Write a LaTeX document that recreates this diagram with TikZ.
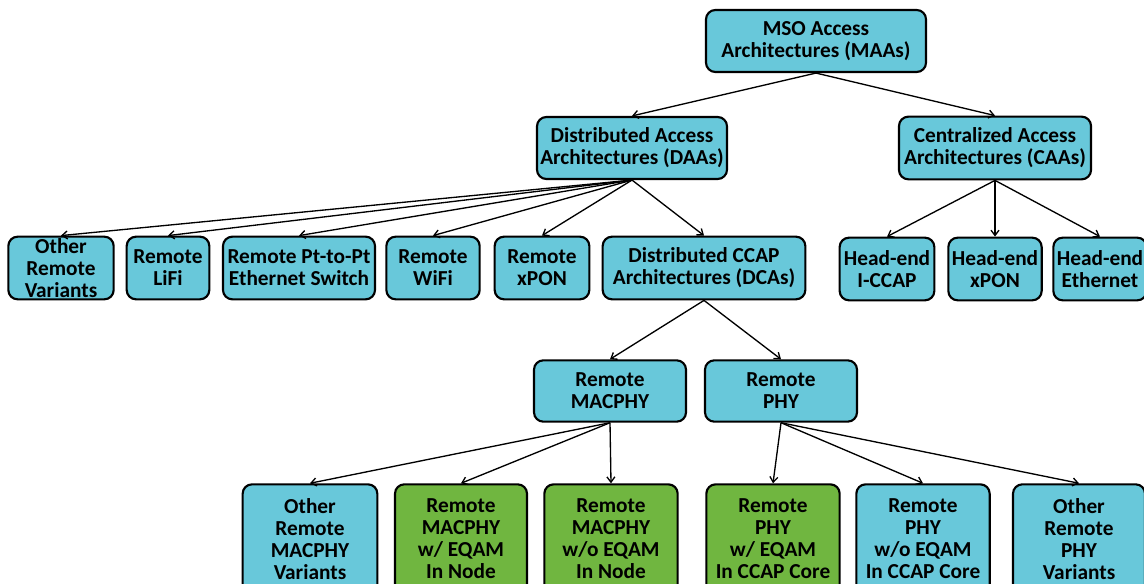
\documentclass[tikz,border=0pt]{standalone}
\usepackage{fontspec}
\setmainfont{Carlito}
\usetikzlibrary{arrows, arrows.meta}
\usetikzlibrary{calc}
\definecolor{boxblue}{RGB}{104,200,218}
\definecolor{boxgreen}{RGB}{112,182,64}

\begin{document}
\begin{tikzpicture}[x=0.75pt, y=-0.75pt,
    box/.style={draw, line width=1.6pt, rounded corners=7pt, fill=boxblue,
      align=center, font=\fontsize{16}{16.5}\selectfont\bfseries, inner sep=1pt},
    gbox/.style={box, fill=boxgreen},
    arr/.style={-{Straight Barb[length=4pt, width=6pt]}, line width=1pt}]
      \useasboundingbox (0, 0) rectangle (1144, 584);
      \clip (0, 0) rectangle (1144, 584);

      % top levels
      \node[box, minimum width=165pt, minimum height=46.5pt] (maa) at (816, 41) {MSO Access\\Architectures (MAAs)};
      \node[box, minimum width=142.5pt, minimum height=46.5pt] (daa) at (632, 148) {Distributed Access\\Architectures (DAAs)};
      \node[box, minimum width=144pt, minimum height=47pt] (caa) at (995, 148) {Centralized Access\\Architectures (CAAs)};

      % DAA children
      \node[box, minimum width=79pt, minimum height=47pt] (orv) at (61, 268) {Other\\Remote\\Variants};
      \node[box, minimum width=62pt, minimum height=47pt] (lifi) at (168, 268) {Remote\\LiFi};
      \node[box, minimum width=114pt, minimum height=47pt] (ptp) at (299, 268) {Remote Pt-to-Pt\\Ethernet Switch};
      \node[box, minimum width=70pt, minimum height=47pt] (wifi) at (433, 268) {Remote\\WiFi};
      \node[box, minimum width=71pt, minimum height=47pt] (rxpon) at (542, 268) {Remote\\xPON};
      \node[box, minimum width=152pt, minimum height=47pt] (dca) at (704, 268) {Distributed CCAP\\Architectures (DCAs)};

      % CAA children
      \node[box, minimum width=71pt, minimum height=47pt] (iccap) at (887, 269) {Head-end\\I-CCAP};
      \node[box, minimum width=70pt, minimum height=47pt] (hxpon) at (995, 269) {Head-end\\xPON};
      \node[box, minimum width=70pt, minimum height=47pt] (heth) at (1100, 269) {Head-end\\Ethernet};

      % DCA children
      \node[box, minimum width=114pt, minimum height=46pt] (macphy) at (610, 391) {Remote\\MACPHY};
      \node[box, minimum width=114pt, minimum height=46pt] (rphy) at (781, 391) {Remote\\PHY};

      % bottom row
      \node[box, minimum width=101pt, minimum height=82pt] (omac) at (310, 539) {Other\\Remote\\MACPHY\\Variants};
      \node[gbox, minimum width=99pt, minimum height=82pt] (macw) at (461, 539) {Remote\\MACPHY\\w/ EQAM\\In Node};
      \node[gbox, minimum width=100pt, minimum height=82pt] (macwo) at (611, 539) {Remote\\MACPHY\\w/o EQAM\\In Node};
      \node[gbox, minimum width=100pt, minimum height=82pt] (phyw) at (773, 539) {Remote\\PHY\\w/ EQAM\\In CCAP Core};
      \node[box, minimum width=100pt, minimum height=82pt] (phywo) at (923, 539) {Remote\\PHY\\w/o EQAM\\In CCAP Core};
      \node[box, minimum width=99pt, minimum height=82pt] (ophy) at (1079, 539) {Other\\Remote\\PHY\\Variants};

      \draw[arr] (maa.south) -- (daa.north);
      \draw[arr] (maa.south) -- (caa.north);
      \foreach \c in {orv, lifi, ptp, wifi, rxpon, dca}
        \draw[arr] (daa.south) -- (\c.north);
      \foreach \c in {iccap, hxpon, heth}
        \draw[arr] (caa.south) -- (\c.north);
      \draw[arr] (dca.south) -- (macphy.north);
      \draw[arr] (dca.south) -- (rphy.north);
      \foreach \c in {omac, macw, macwo}
        \draw[arr] (macphy.south) -- (\c.north);
      \foreach \c in {phyw, phywo, ophy}
        \draw[arr] (rphy.south) -- (\c.north);
\end{tikzpicture}
\end{document}
